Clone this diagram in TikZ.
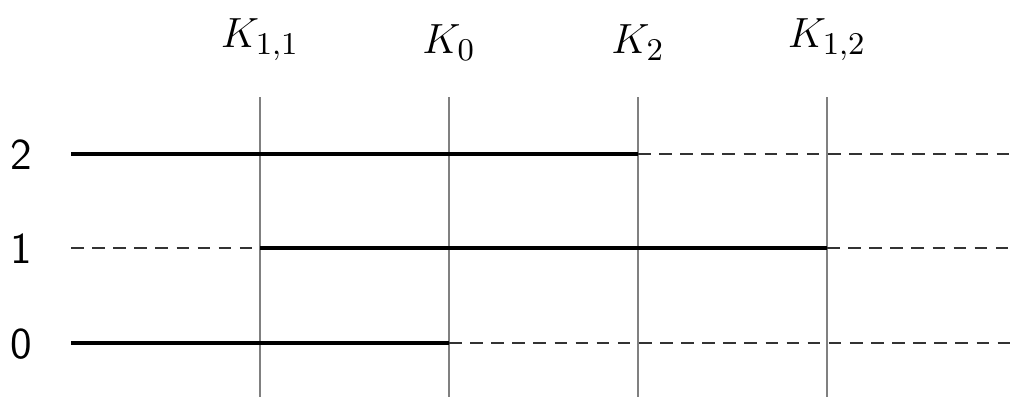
\documentclass[tikz,border=0pt]{standalone}
\begin{document}
\begin{tikzpicture}[x=0.01cm,y=-0.01cm,
  divider/.style={draw=black!50,line width=0.45pt},
  active/.style={draw=black,line width=0.9pt},
  idle/.style={draw=black!80,line width=0.5pt,dash pattern=on 3.6pt off 2.4pt},
  toplabel/.style={anchor=south,inner sep=0pt,font=\fontsize{12.5}{15}\selectfont},
  levellabel/.style={anchor=center,inner sep=0pt,font=\fontsize{12.5}{15}\selectfont\sffamily}]
\useasboundingbox (0,0) rectangle (1012,397);
% vertical dividers
\foreach \n/\x in {a/260,b/449,c/638,d/827}{
  \coordinate (\n top) at (\x,97);
  \coordinate (\n bot) at (\x,397);
  \draw[divider] (\n top) -- (\n bot);
}
\node[toplabel] (ka) at (260,61) {$K_{1,1}$};
\node[toplabel] (kb) at (449,61) {$K_0$};
\node[toplabel] (kc) at (638,61) {$K_2$};
\node[toplabel] (kd) at (827,61) {$K_{1,2}$};
% level labels
\node[levellabel] (l2) at (21,155) {2};
\node[levellabel] (l1) at (21,249) {1};
\node[levellabel] (l0) at (21,344) {0};
% level coordinates
\foreach \lv/\y in {2/154,1/248,0/343}{
  \coordinate (s\lv) at (71,\y);
  \coordinate (e\lv) at (1012,\y);
  \foreach \n/\x in {a/260,b/449,c/638,d/827}{
    \coordinate (\n\lv) at (\x,\y);
  }
}
% level 2
\draw[active] (s2) -- (c2);
\draw[idle] (c2) -- (e2);
% level 1
\draw[idle] (s1) -- (a1);
\draw[active] (a1) -- (d1);
\draw[idle] (d1) -- (e1);
% level 0
\draw[active] (s0) -- (b0);
\draw[idle] (b0) -- (e0);
\end{tikzpicture}
\end{document}
